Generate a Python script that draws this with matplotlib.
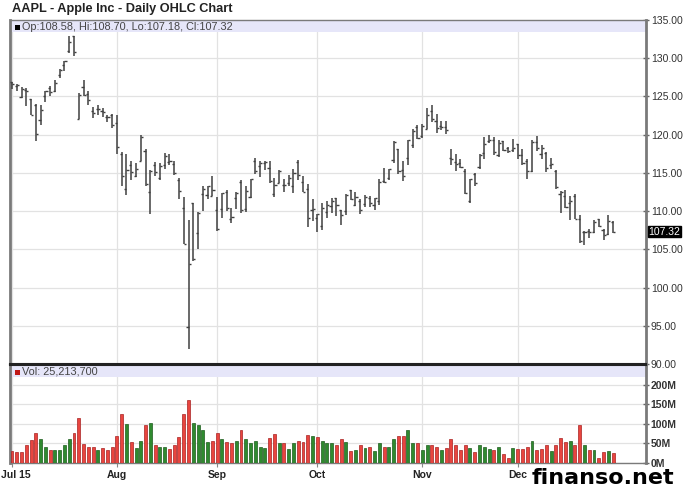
import numpy as np
import pandas as pd
import matplotlib
matplotlib.use("Agg")
import matplotlib.pyplot as plt
from matplotlib.patches import Rectangle
import matplotlib.transforms as mtransforms

plt.rcParams['font.family'] = ['Liberation Sans', 'DejaVu Sans']

# trading days jul 1 - dec 30 2015, market holidays taken out
holidays = ["2015-07-03", "2015-09-07", "2015-11-26", "2015-12-25"]
days = pd.bdate_range("2015-07-01", "2015-12-30")
days = days[~days.isin(pd.to_datetime(holidays))]

# daily OHLC, one list per month
jul_o = [126.90,126.43,124.94,125.89,124.64,123.85,121.94,125.03,126.04,125.72,127.74,129.08,130.97,132.85,121.99,126.20,125.32,123.09,123.38,123.15,122.32,122.60]
jul_h = [126.94,126.69,126.23,126.15,124.64,124.06,123.85,125.76,126.37,127.15,128.57,129.62,132.97,132.92,125.50,127.09,125.74,123.61,123.91,123.50,122.57,122.64]
jul_l = [125.99,125.77,124.85,123.77,122.54,119.22,121.21,124.32,125.04,125.58,127.35,128.31,130.70,130.32,121.99,125.06,123.90,122.12,122.55,122.27,121.71,120.91]
jul_c = [126.60,126.44,126.00,125.69,122.57,120.07,123.28,125.66,125.61,126.82,128.51,129.62,132.07,130.75,125.22,125.16,124.50,122.77,123.38,122.99,122.37,121.30]

aug_o = [121.50,117.42,112.95,115.97,114.58,116.53,117.81,112.53,116.04,114.32,116.04,116.43,116.10,114.08,110.43,94.87,111.11,107.09,112.23,112.17,112.03]
aug_h = [122.57,117.70,117.44,116.50,116.25,119.99,118.18,115.42,116.40,116.31,117.65,117.44,116.52,114.35,111.90,108.80,111.11,109.89,113.24,113.31,114.53]
aug_l = [117.52,113.25,112.10,114.12,114.50,116.53,113.33,109.63,114.54,114.01,115.50,116.01,114.68,111.63,105.65,92.00,103.50,105.05,110.02,111.54,112.00]
aug_c = [118.44,114.64,115.40,115.13,115.52,119.72,113.49,115.24,115.15,115.96,117.16,116.50,115.01,112.65,105.76,103.12,103.74,109.69,112.92,113.29,112.76]

sep_o = [110.15,110.23,112.49,108.97,111.75,113.76,110.27,111.79,116.58,115.93,116.25,115.66,112.21,113.67,113.38,113.63,113.25,116.44,113.85,112.83,110.17]
sep_h = [111.88,112.34,112.78,110.45,112.56,114.02,113.28,114.21,116.89,116.53,116.54,116.49,114.30,115.37,114.18,114.72,115.50,116.69,114.57,113.51,111.54]
sep_l = [107.36,109.13,110.04,108.51,110.32,109.77,109.90,111.76,114.86,114.42,115.44,113.72,111.87,113.66,112.52,113.30,112.37,114.02,112.44,107.86,108.73]
sep_c = [107.72,112.34,110.37,109.27,112.31,110.15,112.57,114.21,115.31,116.28,116.41,113.92,113.45,115.21,113.40,114.32,115.00,114.71,112.44,109.06,110.30]

oct_o = [109.07,108.01,109.88,110.63,111.74,110.19,110.00,112.73,110.82,111.29,110.93,111.78,110.80,111.34,114.00,114.33,116.70,118.08,115.40,116.93,118.70,120.99]
oct_h = [109.62,111.01,111.37,111.74,111.77,110.19,112.28,112.75,112.45,111.52,112.10,112.00,111.75,114.17,115.58,115.50,119.23,118.13,116.54,119.30,120.69,121.22]
oct_l = [107.31,107.55,109.07,109.77,109.41,108.21,109.49,111.44,110.68,109.56,110.49,110.53,110.11,110.82,113.70,114.10,116.33,114.92,113.99,116.06,118.27,119.45]
oct_c = [109.58,110.38,110.78,111.31,110.78,109.50,112.12,111.60,111.79,110.21,111.86,111.04,111.73,113.77,113.76,115.50,119.08,115.28,114.55,119.27,120.53,119.50]

nov_o = [119.87,120.79,123.13,121.85,121.11,120.96,116.90,116.37,116.26,115.20,111.38,114.92,115.76,117.64,119.20,119.27,117.33,119.21,118.29,117.99]
nov_h = [121.36,123.49,123.82,122.69,121.81,121.81,118.07,117.42,116.82,115.57,114.24,115.05,117.49,119.75,119.92,119.73,119.35,119.23,118.41,119.41]
nov_l = [119.61,120.70,121.62,120.18,120.62,120.05,116.06,115.21,115.65,112.27,111.00,113.32,115.50,116.76,118.85,117.34,117.12,117.92,117.60,117.75]
nov_c = [121.18,122.57,122.00,120.92,121.06,120.57,116.77,116.11,115.72,112.34,114.18,113.69,117.29,118.78,119.30,117.75,118.88,118.03,117.81,118.30]

dec_o = [118.75,117.34,116.55,115.29,118.98,117.52,117.64,116.04,115.19,112.18,111.94,111.07,112.02,108.91,107.28,107.40,107.27,109.00,107.59,106.96,108.58]
dec_h = [118.81,118.11,116.79,119.25,119.86,118.60,117.69,116.94,115.39,112.68,112.80,111.99,112.25,109.52,107.37,107.72,108.85,109.00,107.69,109.43,108.70]
dec_l = [116.86,116.08,114.22,115.11,117.81,116.86,115.08,115.51,112.85,109.79,110.35,108.80,108.98,105.81,105.57,106.45,107.20,107.95,106.18,106.86,107.18]
dec_c = [117.34,116.28,115.20,119.03,118.28,118.23,115.62,116.17,113.18,112.48,110.49,111.34,108.98,106.03,107.33,107.23,108.61,108.03,106.82,108.74,107.32]

# daily volume in millions
volume = [30,28,28,47,59,77,62,42,32,32,34,45,60,77,114,49,42,42,32,37,32,42,
          70,124,99,53,38,55,97,102,47,42,41,35,47,66,126,160,102,97,85,53,55,
          77,62,53,51,55,84,62,51,57,42,38,64,74,51,51,35,51,55,53,72,68,
          66,56,52,51,47,62,53,31,32,45,38,41,31,51,42,42,60,68,70,85,51,51,
          34,45,45,41,32,37,60,45,32,47,37,28,47,42,35,32,42,22,14,39,
          35,35,41,57,32,35,47,30,47,64,53,55,45,97,47,32,32,13,28,30,25]

month_labels = ["Jul 15", "Aug", "Sep", "Oct", "Nov", "Dec"]
last_volume = "25,213,700"

opens = np.array(jul_o + aug_o + sep_o + oct_o + nov_o + dec_o)
highs = np.array(jul_h + aug_h + sep_h + oct_h + nov_h + dec_h)
lows = np.array(jul_l + aug_l + sep_l + oct_l + nov_l + dec_l)
closes = np.array(jul_c + aug_c + sep_c + oct_c + nov_c + dec_c)
volume = np.array(volume)
x = np.arange(len(days))

# first trading day of every month
month_pos = [i for i in range(len(days)) if i == 0 or days[i].month != days[i-1].month]

# up/down versus previous close
prev = np.concatenate([[opens[0]], closes[:-1]])
up = closes >= prev

fig = plt.figure(figsize=(6.88, 5.03), dpi=100)
W, H = 688.0, 503.0
ax = fig.add_axes([10/W, 1-364/H, 636/W, 344/H])
axv = fig.add_axes([10/W, 1-463/H, 636/W, 98/H])

grid_c = '#e2e2e2'
bar_c = '#404040'
band_c = '#e6e6f9'

# price panel
ax.vlines(x, lows, highs, color=bar_c, lw=1.1, zorder=3)
ax.hlines(opens, x-0.45, x, color=bar_c, lw=1.0, zorder=3)
ax.hlines(closes, x, x+0.45, color=bar_c, lw=1.0, zorder=3)
ax.set_xlim(-0.42, 132.9)
ax.set_ylim(90, 135)
ax.set_yticks(np.arange(90, 136, 5))
ax.set_yticklabels(["%.2f" % v for v in np.arange(90, 136, 5)])
ax.yaxis.tick_right()
ax.set_xticks(month_pos)
ax.set_xticklabels([])
ax.tick_params(axis='x', length=0)
ax.tick_params(axis='y', direction='inout', length=5, width=1, color='#666666',
               labelsize=7.5, labelcolor='#333333', pad=1)
ax.grid(True, color=grid_c, lw=0.9, zorder=0)
ax.set_axisbelow(True)
ax.add_patch(Rectangle((0, 1-12/344), 1, 12/344, transform=ax.transAxes,
                       color=band_c, zorder=1, lw=0))
ax.add_patch(Rectangle((5/636, 1-10/344), 5/636, 5/344, transform=ax.transAxes,
                       color='black', zorder=4, lw=0))
ax.text(12.5/636, 1-6.5/344, "Op:%.2f, Hi:%.2f, Lo:%.2f, Cl:%.2f" % (opens[-1], highs[-1], lows[-1], closes[-1]),
        transform=ax.transAxes, fontsize=7.8, color='#444444', va='center', ha='left', zorder=4)
for s in ['left', 'right']:
    ax.spines[s].set_color('#7a7a7a')
    ax.spines[s].set_linewidth(2)
ax.spines['top'].set_color('#7a7a7a')
ax.spines['top'].set_linewidth(1)
ax.spines['bottom'].set_color('#222222')
ax.spines['bottom'].set_linewidth(1.5)

# last price tag
trans = mtransforms.blended_transform_factory(ax.transAxes, ax.transData)
ax.text(1.004, closes[-1], "%.2f" % closes[-1], transform=trans, fontsize=7.5,
        color='white', va='center', ha='left',
        bbox=dict(facecolor='black', edgecolor='black', pad=0.6))

# volume panel
vcol = np.where(up, '#2f8a2f', '#e8453f')
ecol = np.where(up, '#1d5c1d', '#a82222')
axv.bar(x, volume, width=0.62, color=vcol, edgecolor=ecol, linewidth=0.5, zorder=3)
axv.set_xlim(-0.42, 132.9)
axv.set_ylim(0, 250)
axv.set_yticks([0, 50, 100, 150, 200])
axv.set_yticklabels(["0M", "50M", "100M", "150M", "200M"], fontweight='bold')
axv.yaxis.tick_right()
axv.set_xticks(month_pos)
axv.set_xticklabels(month_labels, fontweight='bold')
axv.tick_params(axis='x', length=3, color='#888888', labelsize=7.5, labelcolor='#222222', pad=2)
axv.tick_params(axis='y', direction='inout', length=5, width=1, color='#666666',
                labelsize=7.5, labelcolor='#333333', pad=1)
# first month label starts at the left edge of the picture
first = axv.get_xticklabels()[0]
first.set_horizontalalignment('left')
first.set_transform(first.get_transform() + mtransforms.ScaledTranslation(-11/100, 0, fig.dpi_scale_trans))
axv.grid(True, color=grid_c, lw=0.9, zorder=0)
axv.set_axisbelow(True)
axv.add_patch(Rectangle((0, 1-12/98), 1, 12/98, transform=axv.transAxes,
                        color=band_c, zorder=1, lw=0))
axv.add_patch(Rectangle((5/636, 1-10/98), 5/636, 5/98, transform=axv.transAxes,
                        color='#c01818', zorder=4, lw=0))
axv.text(12.5/636, 1-6.5/98, "Vol: " + last_volume, transform=axv.transAxes,
         fontsize=7.8, color='#444444', va='center', ha='left', zorder=4)
for s in ['left', 'right']:
    axv.spines[s].set_color('#7a7a7a')
    axv.spines[s].set_linewidth(2)
axv.spines['top'].set_color('#222222')
axv.spines['top'].set_linewidth(1.5)
axv.spines['bottom'].set_color('#7a7a7a')
axv.spines['bottom'].set_linewidth(1)

# title and watermark
fig.text(12/W, 1-9/H, "AAPL - Apple Inc - Daily OHLC Chart", fontsize=9.2,
         fontweight='bold', color='#222222', va='center', ha='left')
fig.text(532/W, 1-478/H, "finanso.net", fontsize=16, fontweight='bold',
         color='black', va='center', ha='left', family='DejaVu Sans')

fig.savefig("out.png", dpi=100)
